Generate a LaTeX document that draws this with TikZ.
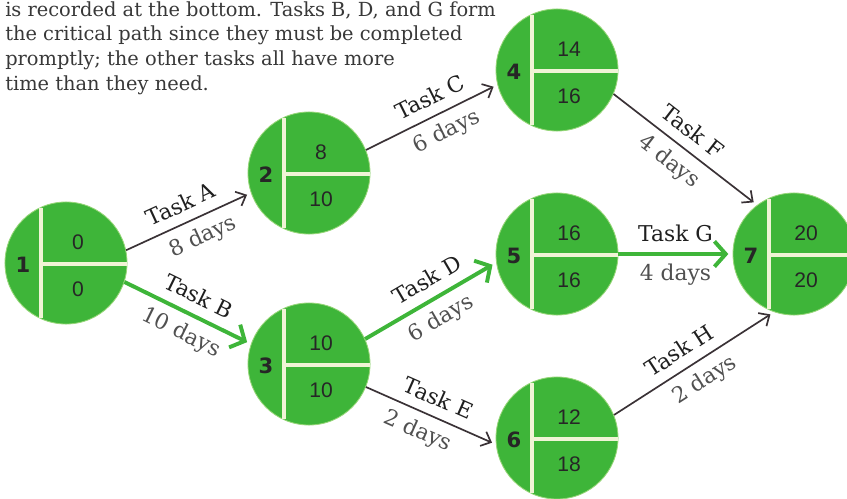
\documentclass[tikz,border=0pt]{standalone}
\usepackage{fontspec}
\setmainfont{DejaVu Serif}
\newfontfamily\numfont{Liberation Sans}
\newfontfamily\idfont{DejaVu Sans}
\usepackage{xcolor}
\usetikzlibrary{positioning, calc, arrows.meta}

\definecolor{eventgreen}{RGB}{62,181,57}
\definecolor{halo}{RGB}{150,214,120}
\definecolor{cream}{RGB}{240,244,214}
\definecolor{inkdark}{RGB}{58,50,54}
\definecolor{daygray}{RGB}{80,80,80}

\begin{document}
\begin{tikzpicture}[x=0.025cm, y=-0.025cm,
        % Style definitions
        event/.style={
            circle,
            fill=eventgreen,
            draw=halo,
            line width=0.6pt,
            minimum size=3.05cm,
            inner sep=0pt
        },
        divider/.style={
            draw=cream,
            line width=2.2pt
        },
        idtext/.style={
            font=\idfont\bfseries\fontsize{15}{17}\selectfont,
            text=black!85,
            inner sep=0pt
        },
        valtext/.style={
            font=\numfont\fontsize{15}{17}\selectfont,
            text=black!85,
            inner sep=0pt
        },
        tasktext/.style={
            font=\fontsize{15.5}{17}\selectfont,
            text=black!88,
            inner sep=0pt
        },
        daytext/.style={
            font=\fontsize{15.5}{17}\selectfont,
            text=daygray,
            inner sep=0pt
        },
        topnote/.style={
            font=\fontsize{13.8}{17.7}\selectfont,
            text=black!78,
            align=left,
            inner sep=0pt
        },
        slack/.style={
            draw=inkdark,
            line width=1.2pt,
            shorten >=3pt,
            -{Straight Barb[length=6pt, width=11pt]}
        },
        critical/.style={
            draw=eventgreen,
            line width=2.8pt,
            shorten >=3pt,
            -{Straight Barb[length=8pt, width=18pt]}
        }
    ]

        \useasboundingbox (0,0) rectangle (847,499);
        \clip (0,0) rectangle (847,499);

        % ==========================================
        % Explanatory text
        % ==========================================
        \node (note) [topnote, anchor=north west] at (5,1)
            {is recorded at the bottom. Tasks B, D, and G form\\
             the critical path since they must be completed\\
             promptly; the other tasks all have more\\
             time than they need.};

        % ==========================================
        % Event circles
        % ==========================================
        \node (n1) [event] at (66,263) {};
        \node (n2) [event] at (309,173) {};
        \node (n3) [event] at (309,364) {};
        \node (n4) [event] at (557,70) {};
        \node (n5) [event] at (557,254) {};
        \node (n6) [event] at (557,438) {};
        \node (n7) [event] at (794,254) {};

        % Dividers: vertical split, then horizontal split on the right
        \draw [divider] ($(n1)+(-25,-55)$) -- ($(n1)+(-25,55)$) ($(n1)+(-25,1)$) -- ($(n1)+(61,1)$);
        \draw [divider] ($(n2)+(-25,-55)$) -- ($(n2)+(-25,55)$) ($(n2)+(-25,1)$) -- ($(n2)+(61,1)$);
        \draw [divider] ($(n3)+(-25,-55)$) -- ($(n3)+(-25,55)$) ($(n3)+(-25,1)$) -- ($(n3)+(61,1)$);
        \draw [divider] ($(n4)+(-25,-55)$) -- ($(n4)+(-25,55)$) ($(n4)+(-25,1)$) -- ($(n4)+(61,1)$);
        \draw [divider] ($(n5)+(-25,-55)$) -- ($(n5)+(-25,55)$) ($(n5)+(-25,1)$) -- ($(n5)+(61,1)$);
        \draw [divider] ($(n6)+(-25,-55)$) -- ($(n6)+(-25,55)$) ($(n6)+(-25,1)$) -- ($(n6)+(61,1)$);
        \draw [divider] ($(n7)+(-25,-55)$) -- ($(n7)+(-25,55)$) ($(n7)+(-25,1)$) -- ($(n7)+(61,1)$);

        % Event numbers (left) and early / late times (right)
        \node (n1id) [idtext] at ($(n1)+(-43,2)$) {1};
        \node (n1es) [valtext] at ($(n1)+(12,-21)$) {0};
        \node (n1lf) [valtext] at ($(n1)+(12,26)$) {0};

        \node (n2id) [idtext] at ($(n2)+(-43,2)$) {2};
        \node (n2es) [valtext] at ($(n2)+(12,-21)$) {8};
        \node (n2lf) [valtext] at ($(n2)+(12,26)$) {10};

        \node (n3id) [idtext] at ($(n3)+(-43,2)$) {3};
        \node (n3es) [valtext] at ($(n3)+(12,-21)$) {10};
        \node (n3lf) [valtext] at ($(n3)+(12,26)$) {10};

        \node (n4id) [idtext] at ($(n4)+(-43,2)$) {4};
        \node (n4es) [valtext] at ($(n4)+(12,-21)$) {14};
        \node (n4lf) [valtext] at ($(n4)+(12,26)$) {16};

        \node (n5id) [idtext] at ($(n5)+(-43,2)$) {5};
        \node (n5es) [valtext] at ($(n5)+(12,-21)$) {16};
        \node (n5lf) [valtext] at ($(n5)+(12,26)$) {16};

        \node (n6id) [idtext] at ($(n6)+(-43,2)$) {6};
        \node (n6es) [valtext] at ($(n6)+(12,-21)$) {12};
        \node (n6lf) [valtext] at ($(n6)+(12,26)$) {18};

        \node (n7id) [idtext] at ($(n7)+(-43,2)$) {7};
        \node (n7es) [valtext] at ($(n7)+(12,-21)$) {20};
        \node (n7lf) [valtext] at ($(n7)+(12,26)$) {20};

        % ==========================================
        % Tasks / Arrows
        % ==========================================
        \draw [slack] (n1.12) -- (n2.199)
            node [tasktext, pos=0.5, above=7pt, sloped] {Task A}
            node [daytext, pos=0.55, below=6pt, sloped] {8 days};

        \draw [critical] (n1.-18) -- (n3.161)
            node [tasktext, pos=0.52, above=7pt, sloped] {Task B}
            node [daytext, pos=0.52, below=6pt, sloped] {10 days};

        \draw [slack] (n2.22) -- (n4.194)
            node [tasktext, pos=0.55, above=7pt, sloped] {Task C}
            node [daytext, pos=0.55, below=6pt, sloped] {6 days};

        \draw [critical] (n3.24) -- (n5.188)
            node [tasktext, pos=0.55, above=7pt, sloped] {Task D}
            node [daytext, pos=0.5, below=6pt, sloped] {6 days};

        \draw [slack] (n3.-22) -- (n6.186)
            node [tasktext, pos=0.5, above=7pt, sloped] {Task E}
            node [daytext, pos=0.46, below=6pt, sloped] {2 days};

        \draw [slack] (n4.-23) -- (n7.127)
            node [tasktext, pos=0.47, above=7pt, sloped] {Task F}
            node [daytext, pos=0.47, below=6pt, sloped] {4 days};

        \draw [critical] (n5.east) -- (n7.west)
            node [tasktext, pos=0.5, above=7pt] {Task G}
            node [daytext, pos=0.5, below=6pt] {4 days};

        \draw [slack] (n6.22) -- (n7.251)
            node [tasktext, pos=0.47, above=7pt, sloped] {Task H}
            node [daytext, pos=0.5, below=6pt, sloped] {2 days};

    \end{tikzpicture}
\end{document}
